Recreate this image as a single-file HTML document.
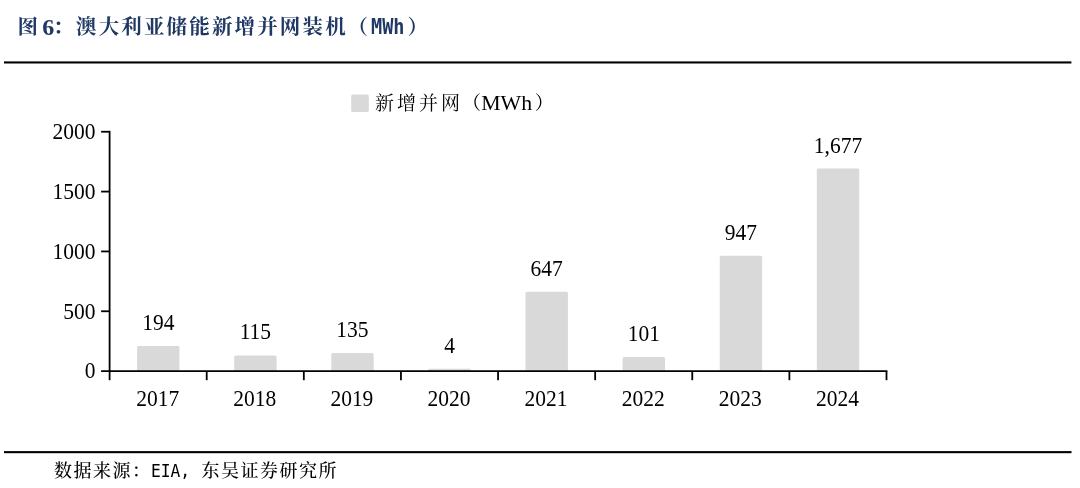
<!DOCTYPE html>
<html lang="zh-CN">
<head>
<meta charset="utf-8">
<title>图 6：澳大利亚储能新增并网装机（MWh）</title>
<style>
html,body{margin:0;padding:0;background:#fff;}
body{width:1080px;height:488px;position:relative;overflow:hidden;font-family:"Liberation Serif","Noto Serif CJK SC",serif;color:#000;}
.title{position:absolute;left:0;top:0;height:54px;white-space:nowrap;color:#1f3864;font-weight:bold;font-size:20.5px;line-height:54px;}
.title span{position:absolute;top:0;white-space:pre;}
.title .cjk{letter-spacing:2.15px;}
.title .six{font-size:24px;top:0.3px;}
.title .mono{font-family:"DejaVu Sans Mono","Liberation Mono",monospace;font-size:20.6px;transform:scaleX(0.9);transform-origin:0 50%;letter-spacing:0;}
.chart{position:absolute;left:0;top:0;}
.chart .num{font-family:"Liberation Serif",serif;font-size:21.5px;fill:#000;}
.legend{position:absolute;top:83.3px;height:40px;line-height:40px;font-size:19px;white-space:nowrap;}
.legend span{position:absolute;white-space:nowrap;}
.legend .cjk{letter-spacing:3px;top:1px}
.legend .lat{font-size:21.8px;top:0px}
.source{position:absolute;top:454px;height:35px;line-height:35px;font-size:18px;white-space:nowrap;font-weight:500;}
.source span{position:absolute;top:0;white-space:nowrap;}
.source .cjk{letter-spacing:1.5px;}
.source .mono{font-weight:400;font-family:"DejaVu Sans Mono","Liberation Mono",monospace;font-size:17.3px;letter-spacing:0;transform:scaleX(0.94);transform-origin:0 50%;}
</style>
</head>
<body>
<div class="title"><span class="cjk" style="left:17.5px">图 </span><span class="six" style="left:42.3px">6</span><span class="cjk" style="left:53px">：</span><span class="cjk" style="left:76px">澳大利亚储能新增并网装机</span><span class="cjk" style="left:347.5px">（</span><span class="mono" style="left:371px">MWh</span><span class="cjk" style="left:407.5px">）</span></div>
<svg class="chart" width="1080" height="488" viewBox="0 0 1080 488">
<rect x="4" y="61.4" width="1067.4" height="2.1" fill="#000"/>
<rect x="4" y="451.1" width="1067.5" height="2.1" fill="#000"/>
<rect x="351.2" y="94.5" width="17.6" height="17.6" rx="1.5" fill="#d9d9d9"/>
<path d="M137.06 371.1V347.48q0 -1.50 1.50 -1.50H177.96q1.50 0 1.50 1.50V371.1Z" fill="#d9d9d9"/>
<text class="num" transform="translate(158.26 329.98) scale(1 1.05)" text-anchor="middle">194</text>
<path d="M234.17 371.1V356.94q0 -1.50 1.50 -1.50H275.07q1.50 0 1.50 1.50V371.1Z" fill="#d9d9d9"/>
<text class="num" transform="translate(255.37 339.44) scale(1 1.05)" text-anchor="middle">115</text>
<path d="M331.28 371.1V354.54q0 -1.50 1.50 -1.50H372.18q1.50 0 1.50 1.50V371.1Z" fill="#d9d9d9"/>
<text class="num" transform="translate(352.48 337.04) scale(1 1.05)" text-anchor="middle">135</text>
<path d="M428.39 371.1V369.91q0 -1.19 1.19 -1.19H469.60q1.19 0 1.19 1.19V371.1Z" fill="#d9d9d9"/>
<text class="num" transform="translate(449.59 352.72) scale(1 1.05)" text-anchor="middle">4</text>
<path d="M525.51 371.1V293.27q0 -1.50 1.50 -1.50H566.41q1.50 0 1.50 1.50V371.1Z" fill="#d9d9d9"/>
<text class="num" transform="translate(546.71 275.77) scale(1 1.05)" text-anchor="middle">647</text>
<path d="M622.62 371.1V358.61q0 -1.50 1.50 -1.50H663.52q1.50 0 1.50 1.50V371.1Z" fill="#d9d9d9"/>
<text class="num" transform="translate(643.82 341.11) scale(1 1.05)" text-anchor="middle">101</text>
<path d="M719.73 371.1V257.37q0 -1.50 1.50 -1.50H760.63q1.50 0 1.50 1.50V371.1Z" fill="#d9d9d9"/>
<text class="num" transform="translate(740.93 239.87) scale(1 1.05)" text-anchor="middle">947</text>
<path d="M816.84 371.1V170.01q0 -1.50 1.50 -1.50H857.74q1.50 0 1.50 1.50V371.1Z" fill="#d9d9d9"/>
<text class="num" transform="translate(838.04 152.51) scale(1 1.05)" text-anchor="middle">1,677</text>
<g stroke="#000" stroke-width="1.8" fill="none">
<path d="M109.6 130.85V380.2"/>
<path d="M101.1 371.1H887.40"/>
<path d="M101.1 311.26H109.6"/>
<path d="M101.1 251.43H109.6"/>
<path d="M101.1 191.59H109.6"/>
<path d="M101.1 131.75H109.6"/>
<path d="M206.71 371.1V380.2"/>
<path d="M303.82 371.1V380.2"/>
<path d="M400.94 371.1V380.2"/>
<path d="M498.05 371.1V380.2"/>
<path d="M595.16 371.1V380.2"/>
<path d="M692.27 371.1V380.2"/>
<path d="M789.39 371.1V380.2"/>
<path d="M886.50 371.1V380.2"/>
</g>
<text class="num" transform="translate(95.6 378.40) scale(1 1.05)" text-anchor="end">0</text>
<text class="num" transform="translate(95.6 318.56) scale(1 1.05)" text-anchor="end">500</text>
<text class="num" transform="translate(95.6 258.73) scale(1 1.05)" text-anchor="end">1000</text>
<text class="num" transform="translate(95.6 198.89) scale(1 1.05)" text-anchor="end">1500</text>
<text class="num" transform="translate(95.6 139.05) scale(1 1.05)" text-anchor="end">2000</text>
<text class="num" transform="translate(157.66 405.8) scale(1 1.05)" text-anchor="middle">2017</text>
<text class="num" transform="translate(254.77 405.8) scale(1 1.05)" text-anchor="middle">2018</text>
<text class="num" transform="translate(351.88 405.8) scale(1 1.05)" text-anchor="middle">2019</text>
<text class="num" transform="translate(448.99 405.8) scale(1 1.05)" text-anchor="middle">2020</text>
<text class="num" transform="translate(546.11 405.8) scale(1 1.05)" text-anchor="middle">2021</text>
<text class="num" transform="translate(643.22 405.8) scale(1 1.05)" text-anchor="middle">2022</text>
<text class="num" transform="translate(740.33 405.8) scale(1 1.05)" text-anchor="middle">2023</text>
<text class="num" transform="translate(837.44 405.8) scale(1 1.05)" text-anchor="middle">2024</text>
</svg>
<div class="legend"><span class="cjk" style="left:375px">新增并网</span><span class="cjk" style="left:462px">（</span><span class="lat" style="left:481.2px">MWh</span><span class="cjk" style="left:534.7px">）</span></div>
<div class="source"><span class="cjk" style="left:54px">数据来源</span><span class="cjk" style="left:132px">：</span><span class="mono" style="left:151px">EIA,</span><span class="cjk" style="left:201.5px">东吴证券研究所</span></div>
</body>
</html>
